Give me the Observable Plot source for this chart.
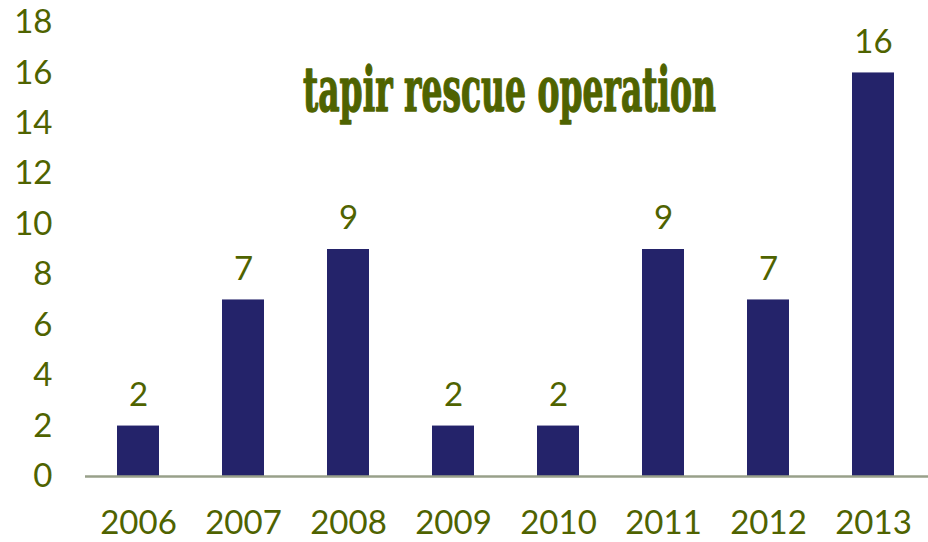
<!DOCTYPE html>
<html>
<head>
<meta charset="utf-8">
<script src="https://cdn.jsdelivr.net/npm/d3@7"></script>
<script src="https://cdn.jsdelivr.net/npm/@observablehq/plot@0.6"></script>
<style>
  html, body { margin: 0; padding: 0; background: #ffffff; }
  #chart svg { display: block; }
</style>
</head>
<body>
<div id="chart"></div>
<script>
const years = ["2006", "2007", "2008", "2009", "2010", "2011", "2012", "2013"];
const rescues = [2, 7, 9, 2, 2, 9, 7, 16];
const yTicks = [0, 2, 4, 6, 8, 10, 12, 14, 16, 18];
const title = "tapir rescue operation";

const data = years.map((year, i) => ({year, value: rescues[i]}));

const textColor = "#4f6300";
const barColor = "#24236a";
const axisColor = "#98a08a";
const font = "Lato, 'Open Sans', sans-serif";

const chart = Plot.plot({
  width: 928,
  height: 542,
  marginLeft: 85,
  marginRight: 3,
  marginTop: 22,
  marginBottom: 66,
  style: {background: "#ffffff", fontFamily: font},
  x: {domain: years, paddingInner: 0.6, paddingOuter: 0.3},
  y: {domain: [0, 18]},
  marks: [
    Plot.barY(data, {x: "year", y: "value", fill: barColor}),
    Plot.ruleX([0], {frameAnchor: "left", y1: 0, y2: 18, stroke: axisColor, strokeWidth: 2.5}),
    Plot.ruleY([0], {stroke: axisColor, strokeWidth: 2.5, insetRight: -3}),
    Plot.axisY({ticks: yTicks, tickSize: 0, tickPadding: 33, fontSize: 33, fill: textColor, label: null}),
    Plot.axisX({tickSize: 0, tickPadding: 34, fontSize: 33, fill: textColor, label: null}),
    Plot.text(data, {x: "year", y: "value", text: d => String(d.value), dy: -31, fontSize: 33, fill: textColor}),
    Plot.text([title], {frameAnchor: "top", dx: 4, dy: 44, fontSize: 62, fontWeight: "bold",
      fontFamily: "'DejaVu Serif Condensed', 'DejaVu Serif', serif", fill: textColor,
      stroke: textColor, strokeWidth: 1.4, className: "chart-title"})
  ]
});

document.getElementById("chart").appendChild(chart);
d3.select(chart).selectAll(".chart-title text")
  .attr("textLength", 413)
  .attr("lengthAdjust", "spacingAndGlyphs");
</script>
</body>
</html>
